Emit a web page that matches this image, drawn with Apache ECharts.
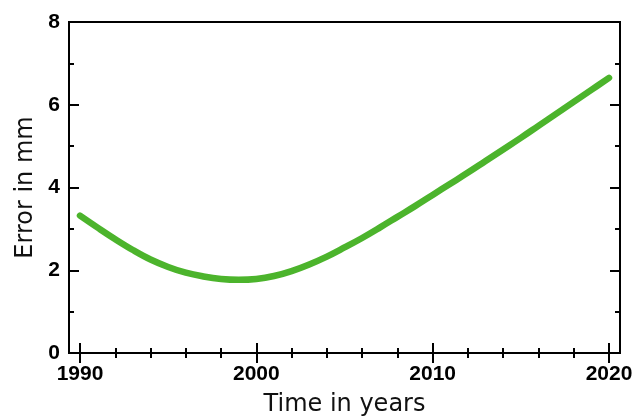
<!DOCTYPE html>
<html>
<head>
<meta charset="utf-8">
<script src="https://cdn.jsdelivr.net/npm/echarts@6/dist/echarts.min.js"></script>
<style>
  html, body { margin: 0; padding: 0; background: #fff; }
  #chart { width: 635px; height: 417px; }
</style>
</head>
<body>
<div id="chart"></div>
<script>
// Measurement error over time (mm), yearly
const years = [1990, 1991, 1992, 1993, 1994, 1995, 1996, 1997, 1998, 1999,
               2000, 2001, 2002, 2003, 2004, 2005, 2006, 2007, 2008, 2009,
               2010, 2011, 2012, 2013, 2014, 2015, 2016, 2017, 2018, 2019, 2020];
const errorMm = [3.32, 3.03, 2.75, 2.49, 2.26, 2.08, 1.94, 1.85, 1.79, 1.77,
                 1.79, 1.86, 1.98, 2.14, 2.33, 2.55, 2.78, 3.03, 3.29, 3.55,
                 3.82, 4.09, 4.36, 4.64, 4.92, 5.20, 5.49, 5.78, 6.07, 6.36, 6.65];

const xTitle = 'Time in years';
const yTitle = 'Error in mm';

const points = years.map((y, i) => [y, errorMm[i]]);

const tickFont = { fontFamily: 'Liberation Sans', fontWeight: 'bold', fontSize: 21, color: '#000' };
const titleFont = { fontFamily: 'DejaVu Sans', fontSize: 24, color: '#111' };
const black = '#000';

const chart = echarts.init(document.getElementById('chart'), null, { renderer: 'canvas' });

chart.setOption({
  animation: false,
  backgroundColor: '#fff',
  grid: [
    // data area: 1990..2020 horizontally, 0..8 vertically
    { left: 80, right: 26, top: 22, bottom: 64, containLabel: false, outerBoundsMode: 'none' },
    // surrounding frame box
    { left: 69, right: 15, top: 22, bottom: 64, containLabel: false, outerBoundsMode: 'none',
      show: true, borderColor: black, borderWidth: 2, backgroundColor: 'transparent' }
  ],
  xAxis: [
    {
      gridIndex: 0, type: 'value', position: 'bottom', min: 1990, max: 2020, interval: 10,
      axisLine: { show: false },
      axisTick: { show: true, inside: true, length: 10, lineStyle: { color: black, width: 2 } },
      minorTick: { show: true, splitNumber: 5, length: 5, lineStyle: { color: black, width: 2 } },
      splitLine: { show: false },
      axisLabel: Object.assign({ margin: 11, formatter: v => String(v) }, tickFont),
      name: xTitle, nameLocation: 'middle', nameGap: 40, nameTextStyle: titleFont
    },
    {
      gridIndex: 0, type: 'value', position: 'top', min: 1990, max: 2020, interval: 10,
      axisLine: { show: false },
      axisTick: { show: true, inside: true, length: 10, lineStyle: { color: black, width: 2 } },
      minorTick: { show: true, splitNumber: 5, length: 5, lineStyle: { color: black, width: 2 } },
      splitLine: { show: false },
      axisLabel: { show: false }
    },
    { gridIndex: 1, type: 'value', show: false, min: 0, max: 1 }
  ],
  yAxis: [
    {
      gridIndex: 0, type: 'value', position: 'left', offset: 11, min: 0, max: 8, interval: 2,
      axisLine: { show: false },
      axisTick: { show: true, inside: true, length: 10, lineStyle: { color: black, width: 2 } },
      minorTick: { show: true, splitNumber: 2, length: 5, lineStyle: { color: black, width: 2 } },
      splitLine: { show: false },
      axisLabel: Object.assign({ margin: 9 }, tickFont),
      name: yTitle, nameLocation: 'middle', nameGap: 27, nameRotate: 90, nameTextStyle: titleFont
    },
    {
      gridIndex: 0, type: 'value', position: 'right', offset: 11, min: 0, max: 8, interval: 2,
      axisLine: { show: false },
      axisTick: { show: true, inside: true, length: 10, lineStyle: { color: black, width: 2 } },
      minorTick: { show: true, splitNumber: 2, length: 5, lineStyle: { color: black, width: 2 } },
      splitLine: { show: false },
      axisLabel: { show: false }
    },
    { gridIndex: 1, type: 'value', show: false, min: 0, max: 1 }
  ],
  series: [
    {
      type: 'line',
      xAxisIndex: 0,
      yAxisIndex: 0,
      data: points,
      smooth: 0.4,
      showSymbol: false,
      clip: false,
      lineStyle: { color: '#4cb42c', width: 6.5, cap: 'round', join: 'round' }
    }
  ]
});
</script>
</body>
</html>
